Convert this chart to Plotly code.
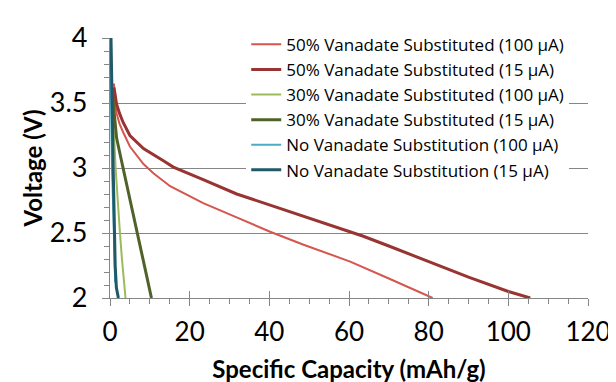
import plotly.graph_objects as go

# ---- data ----
names = [
    "50% Vanadate Substituted (100 µA)",
    "50% Vanadate Substituted (15 µA)",
    "30% Vanadate Substituted (100 µA)",
    "30% Vanadate Substituted (15 µA)",
    "No Vanadate Substitution (100 µA)",
    "No Vanadate Substitution (15 µA)",
]

cap_50_100 = [1.0, 1.2, 1.66, 2.4, 3.3, 5.0, 8.4, 10.9, 15.1, 23.4, 31.8, 40.2, 48.6, 60.3, 70.0, 81.0]
volt_50_100 = [3.65, 3.52, 3.42, 3.34, 3.275, 3.165, 3.03, 2.96, 2.86, 2.73, 2.62, 2.51, 2.41, 2.28, 2.15, 2.0]

cap_50_15 = [1.0, 1.25, 1.66, 2.4, 3.3, 5.0, 8.4, 13.4, 15.9, 23.4, 31.8, 40.2, 48.6, 56.9, 63.6, 70.0, 80.0, 90.0, 100.0, 105.5]
volt_50_15 = [3.62, 3.57, 3.49, 3.42, 3.35, 3.25, 3.15, 3.056, 3.007, 2.91, 2.80, 2.715, 2.63, 2.545, 2.475, 2.40, 2.28, 2.16, 2.05, 2.0]

cap_30_100 = [0.3, 0.7, 1.1, 1.4, 1.9, 2.5, 3.0, 3.5, 3.9]
volt_30_100 = [3.65, 3.45, 3.2, 3.0, 2.75, 2.5, 2.3, 2.12, 2.0]

cap_30_15 = [0.5, 0.9, 1.3, 1.66, 2.5, 3.3, 5.0, 6.5, 7.9, 9.2, 10.4]
volt_30_15 = [3.6, 3.45, 3.32, 3.23, 3.11, 3.0, 2.77, 2.56, 2.35, 2.17, 2.0]

cap_0_100 = [0.05, 0.15, 0.25, 0.5, 0.83, 1.0, 1.25, 1.3]
volt_0_100 = [3.98, 3.7, 3.32, 3.0, 2.67, 2.45, 2.18, 2.12]

cap_0_15 = [0.25, 0.5, 0.65, 0.8, 1.0, 1.1, 1.3, 1.6, 2.1]
volt_0_15 = [4.0, 3.7, 3.3, 3.0, 2.7, 2.5, 2.25, 2.08, 2.0]

x_ticks = [0, 20, 40, 60, 80, 100, 120]
y_ticks = [2, 2.5, 3, 3.5, 4]
y_tick_labels = ["2", "2.5", "3", "3.5", "4"]

colors = ["#D6554F", "#983432", "#9BBB59", "#4F6228", "#4BACC6", "#215968"]
widths = [2, 3, 2, 3, 2, 3]

series = [
    (cap_50_100, volt_50_100),
    (cap_50_15, volt_50_15),
    (cap_30_100, volt_30_100),
    (cap_30_15, volt_30_15),
    (cap_0_100, volt_0_100),
    (cap_0_15, volt_0_15),
]

FONT = "Lato"
LEGFONT = "Open Sans"
AX = "#868686"

fig = go.Figure()
for (xs, ys), nm, c, w in zip(series, names, colors, widths):
    fig.add_trace(go.Scatter(x=xs, y=ys, mode="lines", name=nm,
                             line=dict(color=c, width=w)))

# invisible trace on overlay axis to give major x ticks crossing the axis line
fig.add_trace(go.Scatter(x=[0, 120], y=[2, 2], xaxis="x2", mode="lines",
                         line=dict(width=0), showlegend=False, hoverinfo="skip"))

fig.update_layout(
    width=616, height=382,
    margin=dict(l=102, r=36, t=24, b=84),
    paper_bgcolor="white", plot_bgcolor="white",
    font=dict(family=FONT, color="#000000"),
    showlegend=True,
    legend=dict(
        x=0.285, y=1.043, xanchor="left", yanchor="top",
        bgcolor="white", borderwidth=0,
        font=dict(family=LEGFONT, size=17, color="#000000"),
        tracegroupgap=0,
    ),
    xaxis=dict(
        range=[0, 120], tickvals=x_ticks, ticktext=[str(v) for v in x_ticks],
        showgrid=False, zeroline=False,
        showline=True, linecolor=AX, linewidth=1.3,
        ticks="outside", ticklen=7, tickcolor=AX, tickwidth=1.3,
        minor=dict(dtick=5, ticks="outside", ticklen=5, tickcolor=AX, tickwidth=1, showgrid=False),
        tickfont=dict(family=FONT, size=26),
        ticklabelstandoff=4,
        title=dict(text="<b>Specific Capacity (mAh/g)</b>", font=dict(family=FONT, size=24), standoff=14),
    ),
    xaxis2=dict(
        range=[0, 120], overlaying="x", side="bottom", anchor="y",
        tickvals=x_ticks, showticklabels=False, showgrid=False, zeroline=False,
        showline=False, ticks="inside", ticklen=7, tickcolor=AX, tickwidth=1.3,
    ),
    yaxis=dict(
        range=[2, 4], tickvals=y_ticks, ticktext=y_tick_labels,
        showgrid=True, gridcolor=AX, gridwidth=1.3, zeroline=False,
        showline=True, linecolor=AX, linewidth=1.3,
        ticks="outside", ticklen=7, tickcolor=AX, tickwidth=1.3,
        minor=dict(dtick=0.1, ticks="outside", ticklen=5, tickcolor=AX, tickwidth=1, showgrid=False),
        tickfont=dict(family=FONT, size=27),
        ticklabelstandoff=9,
        title=dict(text="<b>Voltage (V)</b>", font=dict(family=FONT, size=24), standoff=0),
    ),
)

fig.write_html("out.html")
